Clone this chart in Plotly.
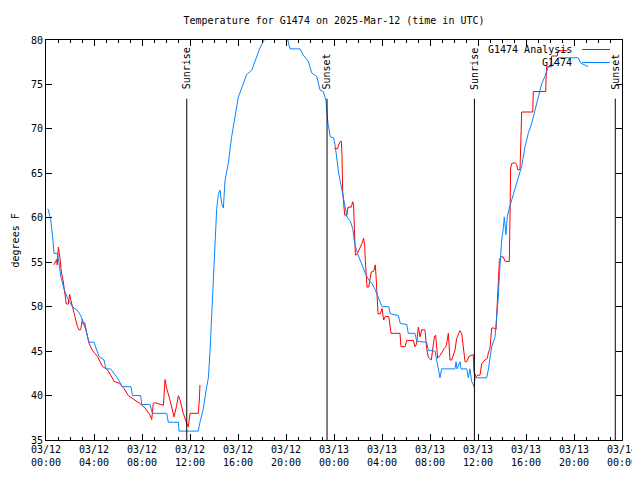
import datetime as dt
import plotly.graph_objects as go

BASE = dt.datetime(2025, 3, 12, 0, 0)

# hours since 2025-03-12 00:00 UTC, temperature (deg F)
obs_hours = [0.17, 0.39, 0.58, 0.67, 0.94, 1.08, 1.23, 1.5, 1.78, 2.19, 2.61, 2.89, 3.31, 3.58, 4.0, 4.42,
             4.83, 5.0, 5.39, 5.94, 6.36, 7.08, 7.21, 7.89, 7.98, 8.67, 8.86, 10.06, 10.19, 11.03, 11.08,
             12.69, 12.83, 13.11, 13.33, 13.53, 13.67, 13.81, 13.94, 14.08, 14.22, 14.36, 14.5, 14.64,
             14.78, 14.92, 15.19, 15.47, 15.75, 16.03, 16.31, 16.72, 17.14, 17.56, 17.83, 18.25, 19.17,
             20.11, 20.33, 21.17, 21.44, 21.86, 22.14, 22.56, 22.83, 23.11, 23.33, 23.42, 23.5, 23.69,
             23.97, 24.11, 24.25, 24.39, 24.61, 24.72, 24.94, 25.08, 25.36, 25.56, 25.72, 26.0, 26.28,
             26.56, 26.89, 27.17, 27.44, 27.72, 28.0, 28.56, 28.69, 29.36, 29.53, 30.06, 30.19, 30.75,
             30.89, 31.72, 31.86, 32.42, 32.56, 32.78, 32.83, 32.97, 34.08, 34.17, 34.25, 34.5, 34.58,
             35.06, 35.19, 35.33, 35.47, 35.61, 35.67, 35.75, 36.72, 36.86, 37.0, 37.14, 37.42, 37.56,
             37.69, 37.78, 37.89, 37.97, 38.11, 38.19, 38.33, 38.44, 38.61, 38.81, 39.08, 39.36, 39.64,
             39.92, 40.19, 40.47, 40.75, 41.03, 41.31, 41.58, 41.86, 42.14, 42.69, 44.36, 44.56, 45.19]
obs_temps = [61, 59.8, 57.5, 56, 56, 55, 53.4, 52, 51, 50, 49.6, 49, 47.4, 46, 46, 44.4,
             44, 43, 43, 42, 41, 41, 40, 40, 39, 39, 38, 38, 37, 37, 36,
             36, 37, 38.5, 40.5, 42, 45, 48.9, 53, 57.1, 60.9, 62.6, 63.1, 61.6,
             61.1, 64.2, 66.1, 69.1, 71.4, 73.6, 74.6, 76.1, 76.6, 78.1, 79.1, 80.2, 81.5,
             80.2, 79, 79, 78.3, 77.6, 76.3, 75.9, 74.4, 74.2, 73.2, 71.7, 70.6, 69.1,
             69, 68, 66.3, 65, 63.5, 62.7, 61.4, 60.1, 59.6, 58.8, 57.1, 55.8, 54.9,
             53.9, 53, 52.6, 51.9, 50.9, 50, 50, 49.2, 49, 48.1, 48, 47, 47,
             46.1, 46, 45.1, 45, 44, 42.5, 42, 43, 43, 43.8, 43, 43.8, 43,
             43, 42, 43, 41.6, 41.2, 41, 42, 42, 42.9, 44.4, 45.5, 46.6, 48.5,
             51.1, 53.4, 55.6, 57.5, 58.8, 60.1, 58.1, 60.1, 61.1, 62, 63.3, 64.6, 65.8,
             68, 69.5, 70.6, 72.1, 73.6, 75.1, 75.9, 77, 77, 78, 78, 77.4, 77]

ana_hours = [0.67, 0.75, 0.89, 0.94, 1.03, 1.17, 1.28, 1.42, 1.56, 1.69, 1.86, 1.97, 2.06, 2.28, 2.47,
             2.61, 2.75, 2.89, 3.03, 3.11, 3.22, 3.44, 3.58, 3.86, 4.28, 4.69, 5.11, 5.39, 5.67, 6.08,
             6.5, 6.86, 7.42, 7.83, 8.25, 8.67, 8.81, 8.94, 9.08, 9.78, 9.92, 10.06, 10.33, 10.53,
             10.67, 10.89, 11.03, 11.17, 11.44, 11.72, 11.86, 12.0, 12.69, 12.78, 12.83,
             None,
             24.03, 24.31, 24.39, 24.53, 24.61, 24.67, 24.72, 24.81, 24.89, 25.08, 25.17, 25.44, 25.56,
             25.63, 25.69, 25.78, 25.92, 26.19, 26.33, 26.47, 26.56, 26.61, 26.75, 26.89, 27.11, 27.31,
             27.44, 27.5, 27.58, 27.67, 27.86, 28.0, 28.14, 28.28, 28.56, 28.75, 29.5, 29.58, 29.92,
             30.06, 30.61, 30.75, 30.88, 31.03, 31.17, 31.31, 31.58, 31.72, 31.86, 32.11, 32.36, 32.47,
             32.64, 32.83, 33.19, 33.36, 33.53, 33.58, 33.67, 33.81, 34.08, 34.22, 34.5, 34.64, 34.75,
             34.92, 35.06, 35.25, 35.61, 35.67, 35.83, 36.0, 36.17, 36.31, 36.58, 36.78, 36.86, 37.0,
             37.14, 37.33, 37.5, 37.56, 37.69, 37.78, 37.89, 38.11, 38.25, 38.61, 38.67, 38.72, 38.81,
             39.08, 39.22, 39.31, 39.5, 39.58, 39.64, 40.56, 40.61, 41.64, 41.71, 42.04, 42.14, 42.61,
             42.67, 43.46]
ana_temps = [54.7, 54.9, 55.3, 54.7, 56.7, 55.4, 53.9, 53, 51.3, 50.3, 50.3, 51.4, 50.8, 49.6, 48.7,
             47.8, 47.4, 47.4, 48.6, 48, 48.2, 46.8, 45.9, 45.1, 44.4, 43.3, 42.9, 42.3, 41.6, 41.4,
             40.8, 40, 39.5, 39.1, 38.6, 37.8, 37.3, 39.1, 39.2, 38.9, 41.8, 40.8, 39.5, 38.4,
             37.6, 38.9, 40, 39.5, 38, 36.9, 36.5, 38, 38, 39.5, 41.2,
             None,
             67.8, 67.8, 68.2, 68.6, 68.6, 66.9, 63.1, 61.6, 60.3, 60.3, 61.2, 61.2, 61.8,
             61.5, 58.6, 55.8, 55.9, 56.6, 57.1, 57.7, 56.8, 55.2, 52.2, 52.2, 53.9, 54,
             54.7, 53.5, 51.1, 49.2, 49.2, 49.8, 48.5, 48.9, 48.9, 47, 47, 45.5, 45.5,
             46.2, 46.2, 45.5, 45.8, 47.7, 46.6, 47.4, 47.4, 45.3, 44.3, 44, 46.6, 46.8,
             44.2, 44.5, 45.3, 45.6, 47, 45.5, 44, 44, 45.1, 46.4, 47.3, 47, 45.5,
             43.8, 43.8, 44.4, 44.6, 42.7, 42.1, 42.3, 42.3, 43.6, 44, 44.2, 44.8, 45.3,
             47.6, 47.6, 47.4, 48.9, 52.2, 55.2, 55.6, 55.6, 55.1, 55.1, 60.3, 65.6, 66.1,
             66.2, 66, 65.4, 65.4, 68.7, 71.9, 71.9, 74.2, 74.2, 77, 77, 78.2, 78.2,
             78.8, 78.8]

sun_labels = ["Sunrise", "Sunset", "Sunrise", "Sunset"]
sun_hours = [11.73, 23.42, 35.70, 47.44]

series_names = ["G1474 Analysis", "G1474"]
series_colors = ["#ff0000", "#0a84ff"]


def to_time(hours):
    return [None if h is None else BASE + dt.timedelta(hours=h) for h in hours]


FONT = "DejaVu Sans Mono"
W, H = 632, 472  # page body has an 8px margin; keep the figure inside the 640x480 window

fig = go.Figure()
fig.add_trace(go.Scatter(x=to_time(ana_hours), y=ana_temps, mode="lines", name=series_names[0],
                         line=dict(color=series_colors[0], width=1), connectgaps=False))
fig.add_trace(go.Scatter(x=to_time(obs_hours), y=obs_temps, mode="lines", name=series_names[1],
                         line=dict(color=series_colors[1], width=1)))

for lab, h in zip(sun_labels, sun_hours):
    t = BASE + dt.timedelta(hours=h)
    fig.add_shape(type="line", xref="x", yref="y", x0=t, x1=t, y0=35, y1=73.4,
                  line=dict(color="black", width=1))
    fig.add_annotation(x=t, y=74.2, xref="x", yref="y", text=lab, textangle=-90,
                       showarrow=False, xanchor="center", yanchor="bottom",
                       font=dict(family=FONT, size=10, color="black"))

# gnuplot-style key: text on the left, line sample on the right
key_y = [0.97625, 0.94375]
for name, color, ky in zip(series_names, series_colors, key_y):
    fig.add_annotation(x=0.9167, y=ky, xref="paper", yref="paper", text=name, showarrow=False,
                       xanchor="right", yanchor="middle", font=dict(family=FONT, size=10, color="black"))
    fig.add_shape(type="line", xref="paper", yref="paper", x0=0.9306, x1=0.9792, y0=ky, y1=ky,
                  line=dict(color=color, width=1))

fig.add_annotation(x=-0.0530, y=0.5, xref="paper", yref="paper", text="degrees F", textangle=-90,
                   showarrow=False, xanchor="center", yanchor="middle",
                   font=dict(family=FONT, size=10, color="black"))

fig.update_layout(
    width=W, height=H,
    margin=dict(l=38, r=18, t=32, b=40),
    paper_bgcolor="white", plot_bgcolor="white",
    showlegend=False,
    font=dict(family=FONT, size=10, color="black"),
    title=dict(text="Temperature for G1474 on 2025-Mar-12 (time in UTC)", x=0.5, xref="paper",
               y=1 - 12 / H, yanchor="middle", font=dict(family=FONT, size=10, color="black")),
)
fig.update_xaxes(
    type="date", range=[BASE, BASE + dt.timedelta(hours=48)],
    dtick=4 * 3600 * 1000, tick0=BASE, tickformat="%m/%d<br>%H:%M",
    ticks="inside", ticklen=6, tickcolor="black", showline=True, linecolor="black", linewidth=1,
    mirror="ticks", showgrid=False, zeroline=False,
    minor=dict(dtick=3600 * 1000, ticks="inside", ticklen=3, tickcolor="black", showgrid=False),
    tickfont=dict(family=FONT, size=10, color="black"), automargin=False,
)
fig.update_yaxes(
    range=[35, 80], dtick=5, tick0=35,
    ticks="inside", ticklen=6, tickcolor="black", showline=True, linecolor="black", linewidth=1,
    mirror="ticks", showgrid=False, zeroline=False,
    tickfont=dict(family=FONT, size=10, color="black"), automargin=False,
)

fig.write_html("out.html")
